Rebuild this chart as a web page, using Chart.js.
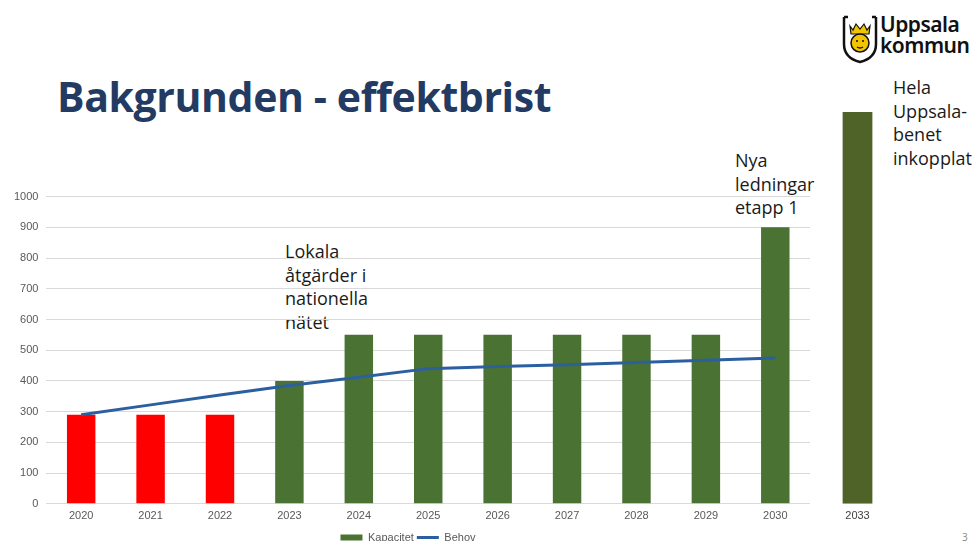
<!DOCTYPE html>
<html>
<head>
<meta charset="utf-8">
<script src="https://cdn.jsdelivr.net/npm/chart.js@4"></script>
<style>
  body { margin: 0; width: 973px; height: 541px; overflow: hidden; background: #fff; position: relative; font-family: "Open Sans", sans-serif; }
  .title { position: absolute; left: 57px; top: 68px; font-size: 41px; font-weight: bold; color: #233a63; font-family: "Open Sans", sans-serif; letter-spacing: -0.4px; }
  .note { position: absolute; font-size: 18px; line-height: 23.5px; color: #1a1a1a; }
  #main { position: absolute; left: 0; top: 182px; }
  #extra { position: absolute; left: 815px; top: 104px; }
  .logo { position: absolute; left: 842px; top: 14px; }
  .logo-txt { position: absolute; left: 880px; top: 14px; font-size: 21px; font-weight: 600; line-height: 21px; color: #111; font-family: "Noto Sans", sans-serif; letter-spacing: -0.5px; }
  .pg { position: absolute; left: 962px; top: 530px; font-size: 10px; color: #888; }
</style>
</head>
<body>
<div class="title">Bakgrunden - effektbrist</div>
<svg class="logo" width="36" height="50" viewBox="0 0 36 50">
  <path d="M2 3 H6 M2 3 V30 Q2 44 18 48 Q34 44 34 30 V3 M34 3 H30" fill="none" stroke="#111" stroke-width="2.5"/>
  <path d="M8 12 L11 16 L14 10 L18 15 L22 10 L25 16 L28 12 L27 20 H9 Z" fill="#f2c500" stroke="#111" stroke-width="1.2"/>
  <circle cx="18" cy="29" r="9" fill="#f2c500" stroke="#111" stroke-width="1.5"/>
  <path d="M14 27 h2 M20 27 h2 M15 33 Q18 35 21 33" stroke="#111" stroke-width="1.3" fill="none"/>
</svg>
<div class="logo-txt">Uppsala<br>kommun</div>
<div class="note" style="left:285px; top:240px;">Lokala<br>åtgärder i<br>nationella<br>nätet</div>
<div class="note" style="left:735px; top:149px;">Nya<br>ledningar<br>etapp 1</div>
<div class="note" style="left:893px; top:76px;">Hela<br>Uppsala-<br>benet<br>inkopplat</div>
<div class="pg">3</div>
<canvas id="main" width="830" height="371"></canvas>
<canvas id="extra" width="85" height="425"></canvas>
<script>
// år på x-axeln
const years = ['2020', '2021', '2022', '2023', '2024', '2025', '2026', '2027', '2028', '2029', '2030'];
// kapacitet per år
const kapacitet = [290, 290, 290, 400, 550, 550, 550, 550, 550, 550, 900];
// behov per år
const behov = [290, 322, 354, 385, 412, 440, 447, 453, 460, 467, 475];
// färg per stapel (röd = brist)
const barColors = ['#ff0000', '#ff0000', '#ff0000', '#4a7233', '#4a7233', '#4a7233', '#4a7233', '#4a7233', '#4a7233', '#4a7233', '#4a7233'];
const yTicks = [0, 100, 200, 300, 400, 500, 600, 700, 800, 900, 1000];

// 2033, hela benet inkopplat
const extraYear = ['2033'];
const extraValue = [1275];

window.addEventListener('load', () => {
    const ctx = document.getElementById('main').getContext('2d');
    new Chart(ctx, {
        type: 'bar',
        data: {
            labels: years,
            datasets: [{
                label: 'Kapacitet',
                data: kapacitet,
                backgroundColor: barColors,
                barPercentage: 0.41,
                categoryPercentage: 1,
                order: 1
            }, {
                type: 'line',
                label: 'Behov',
                data: behov,
                borderColor: '#2c5fa0',
                backgroundColor: '#2c5fa0',
                borderWidth: 3,
                pointRadius: 0,
                tension: 0,
                order: 0
            }]
        },
        options: {
            responsive: false,
            animation: false,
            layout: { padding: { left: 6, right: 20, top: 6, bottom: 0 } },
            plugins: {
                legend: {
                    position: 'bottom',
                    labels: {
                        usePointStyle: true,
                        pointStyleWidth: 22,
                        boxHeight: 6,
                        color: '#595959',
                        font: { size: 11, family: 'Liberation Sans' },
                        padding: 3,
                        sort: (a, b) => a.datasetIndex - b.datasetIndex,
                        generateLabels: function(chart) {
                            const items = Chart.defaults.plugins.legend.labels.generateLabels(chart);
                            items.forEach(function(it) {
                                if (it.text === 'Kapacitet') {
                                    it.fillStyle = '#4a7233';
                                    it.strokeStyle = '#4a7233';
                                    it.pointStyle = 'rect';
                                    it.lineWidth = 0;
                                } else {
                                    it.pointStyle = 'line';
                                    it.lineWidth = 3;
                                }
                            });
                            return items;
                        }
                    }
                },
                tooltip: { enabled: false }
            },
            scales: {
                x: {
                    grid: { display: false, drawTicks: false },
                    border: { display: false },
                    ticks: { color: '#595959', font: { size: 11, family: 'Liberation Sans' }, padding: 6 }
                },
                y: {
                    min: 0,
                    max: 1000,
                    afterBuildTicks: function(axis) {
                        axis.ticks = yTicks.map(v => ({ value: v }));
                    },
                    grid: { color: '#d9d9d9', drawTicks: false },
                    border: { display: false },
                    ticks: {
                        color: '#595959',
                        font: { size: 11, family: 'Liberation Sans' },
                        padding: 8,
                        callback: function(value) { return String(value); }
                    }
                }
            }
        }
    });

    const ctx2 = document.getElementById('extra').getContext('2d');
    new Chart(ctx2, {
        type: 'bar',
        data: {
            labels: extraYear,
            datasets: [{
                data: extraValue,
                backgroundColor: '#4f6228',
                barPercentage: 0.35,
                categoryPercentage: 1
            }]
        },
        options: {
            responsive: false,
            animation: false,
            layout: { padding: { top: 8, bottom: 0 } },
            plugins: { legend: { display: false }, tooltip: { enabled: false } },
            scales: {
                x: {
                    grid: { display: false, drawTicks: false },
                    border: { display: false },
                    ticks: { color: '#404040', font: { size: 11, family: 'Liberation Sans' }, padding: 6 }
                },
                y: { display: false, min: 0, max: 1275 }
            }
        }
    });
});
</script>
</body>
</html>
